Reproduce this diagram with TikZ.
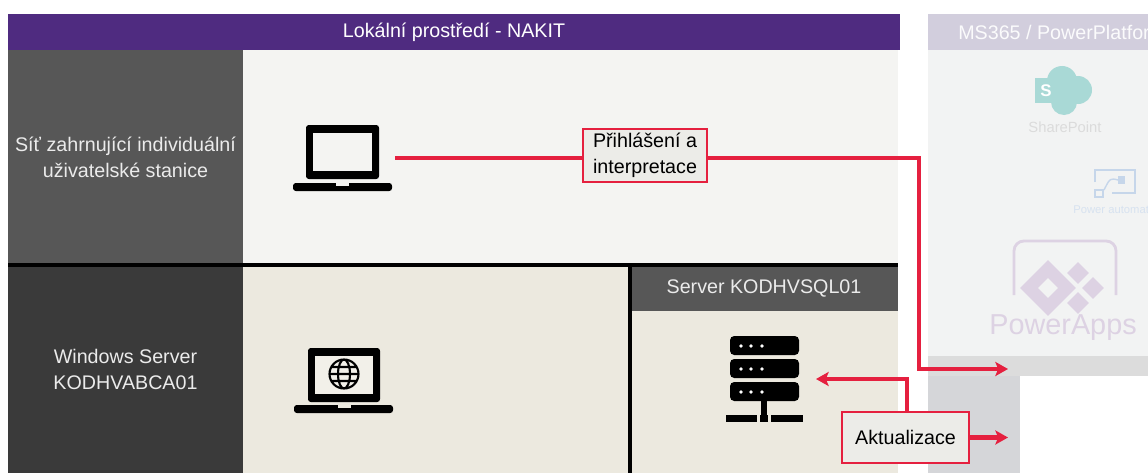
\documentclass[tikz,border=0pt]{standalone}
\usepackage{fontspec}
\setmainfont{Liberation Sans}
\usetikzlibrary{arrows.meta,shapes.geometric}
\definecolor{titlepurple}{HTML}{4F2B80}
\definecolor{celldark}{HTML}{3A3A3A}
\definecolor{cellgray}{HTML}{575757}
\definecolor{cellbeige}{HTML}{ECE9DF}
\definecolor{cellwhite}{HTML}{F4F4F2}
\definecolor{labelfill}{HTML}{ECECE8}
\definecolor{linkred}{HTML}{E5203F}
\definecolor{fadebar}{HTML}{D2CEDD}
\definecolor{fadepanel}{HTML}{F2F3F3}
\definecolor{fadeband}{HTML}{DCDCDC}
\definecolor{fadegray}{HTML}{D5D6D9}
\definecolor{fadeteal}{HTML}{A9D9D6}
\definecolor{fadelilac}{HTML}{DDD2E3}
\definecolor{fadeblue}{HTML}{C6D6EA}
\begin{document}
\begin{tikzpicture}[
        x=0.025cm, y=-0.025cm,
        cell/.style={rectangle, inner sep=0, outer sep=0, anchor=north west, align=center, font=\fontsize{14}{18}\selectfont},
        darkcell/.style={cell, fill=celldark, text=white!92!black},
        graycell/.style={cell, fill=cellgray, text=white!92!black},
        label/.style={rectangle, draw=linkred, line width=1.7pt, fill=labelfill, align=center, inner sep=0, font=\fontsize{14}{18.4}\selectfont},
        link/.style={draw=linkred, line width=3pt},
        arrowlink/.style={link, -{Stealth[length=9pt,width=10pt,inset=2pt]}},
        icon/.style={rectangle, inner sep=0, outer sep=0, minimum width=#1},
        divider/.style={black, line width=2.2pt},
      ]
      \useasboundingbox (0,0) rectangle (1148,473);
      \clip (0,0) rectangle (1148,473);
      \fill[white] (0,0) rectangle (1148,473);

      %Nodes
      \node[cell, fill=titlepurple, text=white, minimum width=892*0.025cm, minimum height=36*0.025cm] (title) at (8,14) {Lokální prostředí - NAKIT};
      \node[graycell, minimum width=235*0.025cm, minimum height=215*0.025cm] (net) at (8,50) {Síť zahrnující individuální\\uživatelské stanice};
      \node[cell, fill=cellwhite, minimum width=655*0.025cm, minimum height=215*0.025cm] (netarea) at (243,50) {};
      \node[darkcell, minimum width=235*0.025cm, minimum height=207*0.025cm] (win) at (8,266) {Windows Server\\KODHVABCA01};
      \node[cell, fill=cellbeige, minimum width=387*0.025cm, minimum height=207*0.025cm] (winarea) at (243,266) {};
      \node[cell, fill=cellbeige, minimum width=268*0.025cm, minimum height=207*0.025cm] (sqlarea) at (630,266) {};
      \node[graycell, minimum width=268*0.025cm, minimum height=45*0.025cm] (sql) at (630,266) {Server KODHVSQL01};

      %Faded panel
      \node[cell, fill=fadepanel, minimum width=220*0.025cm, minimum height=306*0.025cm] (panel) at (928,50) {};
      \fill[fadeband] (928,356) rectangle (1148,376);
      \fill[fadegray] (928,376) rectangle (1020,473);
      \node[cell, fill=fadebar, minimum width=220*0.025cm, minimum height=36*0.025cm] (ms) at (928,14) {};
      \node[anchor=west, inner sep=0, text=white!92!fadebar, font=\fontsize{14}{18}\selectfont] (mstext) at (958,32) {MS365 / PowerPlatform};

      \fill[fadeteal] (1035,78) rectangle (1057,103);
      \fill[fadeteal] (1062,81) circle (15) (1078,90) circle (14) (1064,102) circle (13);
      \node[text=white, inner sep=0, font=\bfseries\fontsize{12}{14}\selectfont] (sp) at (1046,91) {S};
      \node[text=black!14, inner sep=0, font=\fontsize{10.5}{12}\selectfont] (sptext) at (1065,127) {SharePoint};

      \draw[fadeblue, line width=1pt] (1095,182) -- (1095,170) -- (1135,170) -- (1135,193) -- (1112,193);
      \draw[fadeblue, line width=1pt] (1095,190) rectangle (1103,197);
      \draw[fadeblue, line width=1pt] (1104,190) .. controls (1110,178) .. (1118,180);
      \fill[fadeblue] (1118,176) rectangle (1125,184);
      \node[anchor=west, text=fadeblue!70, inner sep=0, font=\fontsize{8}{10}\selectfont] (patext) at (1073,210) {Power automate};

      \draw[fadelilac, line width=2pt, rounded corners=7pt] (1014,295) -- (1014,241) -- (1116,241) -- (1116,295);
      \node[diamond, fill=fadelilac, inner sep=0, minimum size=56*0.025cm] (appsa) at (1048,288) {};
      \node[diamond, fill=fadepanel, inner sep=0, minimum size=20*0.025cm] (appsb) at (1048,288) {};
      \node[diamond, fill=fadelilac, inner sep=0, minimum size=22*0.025cm] (appsc) at (1078,273) {};
      \node[diamond, fill=fadelilac, inner sep=0, minimum size=22*0.025cm] (appsd) at (1093,288) {};
      \node[diamond, fill=fadelilac, inner sep=0, minimum size=22*0.025cm] (appse) at (1078,303) {};
      \node[text=fadelilac, inner sep=0, font=\fontsize{20.5}{24}\selectfont] (apps) at (1063,328) {PowerApps};

      %Icons
      \node[icon=86*0.025cm, minimum height=66*0.025cm] (laptop) at (342,158) {};
      \fill[rounded corners=2pt] (306,125) rectangle (379,179);
      \fill[cellwhite] (313,133) rectangle (372,171);
      \fill[rounded corners=2pt] (293,183) rectangle (392,191);
      \fill[cellwhite] (336,183) rectangle (349,186);

      \fill[rounded corners=2pt] (308,348) rectangle (380,402);
      \fill[cellbeige!70!white] (315,356) rectangle (373,394);
      \draw[line width=1.5pt] (344,374) circle (14.5) (344,374) ellipse (6 and 14.5) (330,374) -- (358,374) (332,367) -- (356,367) (332,381) -- (356,381);
      \fill[rounded corners=2pt] (294,405) rectangle (393,413);
      \fill[cellbeige] (338,405) rectangle (351,408);

      \foreach \y in {336,359,382} {
        \fill[rounded corners=3pt] (730,\y) rectangle (799,\y+19);
        \foreach \x in {741,751,762}
          \fill[white] (\x,\y+10) circle (1.8);
      }
      \fill (761,401) rectangle (767,415);
      \fill (726,415) rectangle (757,422);
      \fill (760,415) rectangle (768,422);
      \fill (771,415) rectangle (803,422);
      \node[icon=92*0.025cm, minimum height=90*0.025cm] (server) at (770,379) {};

      \node[label, minimum width=124*0.025cm, minimum height=53*0.025cm] (login) at (645,155.5) {Přihlášení a\\interpretace};
      \node[label, minimum width=127*0.025cm, minimum height=51*0.025cm] (update) at (905.5,437.5) {Aktualizace};

      \coordinate (apptip) at (1008,369);
      \coordinate (dbtip) at (1008,437.5);
      \coordinate (bendup) at (907,379);

      %Lines
      \draw[divider] (8,265) -- (898,265);
      \draw[divider] (630,265) -- (630,473);
      \draw[link] (laptop.east) ++(10,0) -- (laptop.east -| login.west);
      \draw[arrowlink] (laptop.east -| login.east) -| (919,369) -- (apptip);
      \draw[arrowlink] (update) -- (dbtip);
      \draw[arrowlink] (update.north -| bendup) -- (bendup) -- (server.east |- bendup);
    \end{tikzpicture}
\end{document}
